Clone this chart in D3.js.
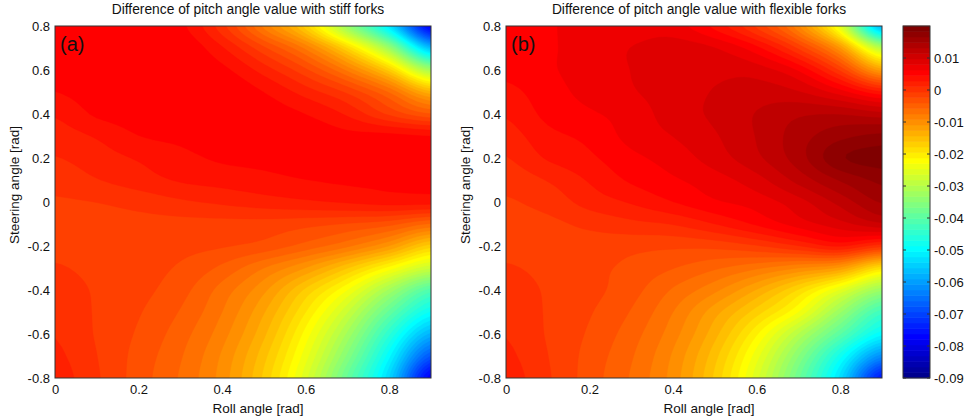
<!DOCTYPE html>
<html lang="en">
<head>
	<meta charset="UTF-8">
	<title>Difference of pitch angle value</title>
	<script type="text/javascript" src="https://cdn.jsdelivr.net/npm/d3@7"></script>
	<style>
		body { margin: 0; background: #fff; }
		text { font-family: "Liberation Sans", Arial, sans-serif; fill: #111; }
	</style>
</head>
<body>
	<script type="text/javascript">
		// grid: columns = roll angle, rows = steering angle (top to bottom)
		var rollAngles = [0, 0.1, 0.2, 0.3, 0.4, 0.5, 0.6, 0.7, 0.8, 0.9];
		var steerAngles = [0.8, 0.7, 0.6, 0.5, 0.4, 0.3, 0.2, 0.1, 0, -0.1, -0.2, -0.3, -0.4, -0.5, -0.6, -0.7, -0.8];

		// (a) stiff forks
		var stiffDiff = [
			[0.005, 0.006, 0.006, 0.005, 0.000, -0.008, -0.017, -0.033, -0.052, -0.078],
			[0.005, 0.006, 0.006, 0.006, 0.003, -0.002, -0.008, -0.018, -0.033, -0.057],
			[0.005, 0.006, 0.006, 0.006, 0.005, 0.002, -0.002, -0.008, -0.017, -0.032],
			[0.0045, 0.0055, 0.006, 0.006, 0.006, 0.0045, 0.002, -0.001, -0.006, -0.014],
			[0.003, 0.0048, 0.0055, 0.006, 0.006, 0.0055, 0.0045, 0.0025, -0.001, -0.004],
			[0.002, 0.003, 0.0045, 0.005, 0.0055, 0.0055, 0.0055, 0.005, 0.005, 0.0045],
			[0.001, 0.002, 0.003, 0.004, 0.0048, 0.005, 0.0052, 0.0052, 0.0052, 0.005],
			[0.000, 0.001, 0.002, 0.003, 0.0035, 0.004, 0.0045, 0.0048, 0.0048, 0.0046],
			[-0.0008, -0.0006, 0.000, 0.0008, 0.0014, 0.002, 0.0025, 0.003, 0.0035, 0.0035],
			[-0.001, -0.0012, -0.0012, -0.0012, -0.0012, -0.0013, -0.0018, -0.0025, -0.0035, -0.006],
			[-0.001, -0.0012, -0.0014, -0.0018, -0.0022, -0.003, -0.0048, -0.0072, -0.011, -0.017],
			[-0.0005, -0.001, -0.0016, -0.0026, -0.0045, -0.0075, -0.011, -0.016, -0.022, -0.028],
			[0.000, -0.0008, -0.0018, -0.0034, -0.0065, -0.0105, -0.0165, -0.023, -0.032, -0.041],
			[0.0005, -0.0008, -0.0022, -0.0042, -0.0075, -0.0125, -0.0195, -0.028, -0.039, -0.049],
			[0.001, -0.0008, -0.0026, -0.005, -0.0085, -0.014, -0.022, -0.032, -0.045, -0.058],
			[0.0015, -0.0006, -0.003, -0.0056, -0.0095, -0.0155, -0.024, -0.0355, -0.050, -0.068],
			[0.002, -0.0004, -0.0032, -0.006, -0.010, -0.0165, -0.0258, -0.0388, -0.054, -0.078]
		];

		// (b) flexible forks
		var flexDiff = [
			[0.005, 0.006, 0.007, 0.007, 0.007, 0.004, -0.001, -0.009, -0.025, -0.058],
			[0.005, 0.006, 0.007, 0.008, 0.0088, 0.008, 0.005, -0.001, -0.011, -0.030],
			[0.005, 0.006, 0.007, 0.008, 0.0088, 0.0092, 0.0088, 0.006, -0.001, -0.012],
			[0.004, 0.0055, 0.0068, 0.0078, 0.0088, 0.0098, 0.0105, 0.0098, 0.007, 0.003],
			[0.003, 0.005, 0.006, 0.007, 0.0088, 0.010, 0.0115, 0.0128, 0.013, 0.012],
			[0.002, 0.004, 0.005, 0.0068, 0.008, 0.0095, 0.0115, 0.014, 0.016, 0.017],
			[0.001, 0.003, 0.0042, 0.0058, 0.007, 0.0088, 0.011, 0.014, 0.018, 0.019],
			[0.000, 0.0012, 0.003, 0.0048, 0.006, 0.0072, 0.009, 0.012, 0.015, 0.017],
			[-0.0008, 0.000, 0.0018, 0.003, 0.0045, 0.006, 0.007, 0.009, 0.012, 0.015],
			[-0.001, -0.001, -0.0002, 0.0006, 0.0012, 0.0028, 0.0048, 0.007, 0.009, 0.011],
			[-0.001, -0.0012, -0.0014, -0.0018, -0.002, -0.0018, -0.0008, 0.001, 0.003, 0.000],
			[-0.0005, -0.001, -0.0018, -0.0028, -0.004, -0.0055, -0.0072, -0.0092, -0.0115, -0.019],
			[0.000, -0.0008, -0.0018, -0.0034, -0.006, -0.0088, -0.0128, -0.018, -0.025, -0.033],
			[0.0005, -0.0008, -0.0022, -0.0042, -0.0075, -0.012, -0.017, -0.023, -0.033, -0.043],
			[0.001, -0.0008, -0.0026, -0.005, -0.0085, -0.0138, -0.021, -0.030, -0.040, -0.050],
			[0.0015, -0.0006, -0.003, -0.0056, -0.0095, -0.0155, -0.024, -0.035, -0.048, -0.062],
			[0.002, -0.0004, -0.0032, -0.006, -0.010, -0.0165, -0.0258, -0.038, -0.053, -0.075]
		];

		var xTicks = [0, 0.2, 0.4, 0.6, 0.8];
		var yTicks = [-0.8, -0.6, -0.4, -0.2, 0, 0.2, 0.4, 0.6, 0.8];
		var cbTicks = [-0.09, -0.08, -0.07, -0.06, -0.05, -0.04, -0.03, -0.02, -0.01, 0, 0.01];
		var cbMin = -0.09, cbMax = 0.02, nColors = 64;

		var titles = ["Difference of pitch angle value with stiff forks", "Difference of pitch angle value with flexible forks"];
		var tags = ["(a)", "(b)"];
		var xLabel = "Roll angle [rad]";
		var yLabel = "Steering angle [rad]";

		var width = 973, height = 418;
		var plotTop = 26, plotBottom = 378, plotW = 376;
		var svg = d3.select("body").append("svg")
			.attr("width", width)
			.attr("height", height);

		// matlab jet(64)
		function jetU(j) {
			if (j < 1 || j > 47) return 0;
			if (j <= 16) return j / 16;
			if (j <= 31) return 1;
			return (48 - j) / 16;
		}
		function jet(k) {
			return d3.rgb(255 * jetU(k - 24), 255 * jetU(k - 8), 255 * jetU(k + 8)).formatHex();
		}
		var step = (cbMax - cbMin) / nColors;
		var levels = d3.range(nColors).map(function (i) { return cbMin + i * step; });
		var color = d3.scaleQuantize()
			.domain([cbMin, cbMax])
			.range(d3.range(1, nColors + 1).map(jet));

		// smooth the read grid for display only (catmull-rom)
		function cr(p0, p1, p2, p3, t) {
			return 0.5 * (2 * p1 + (p2 - p0) * t + (2 * p0 - 5 * p1 + 4 * p2 - p3) * t * t + (3 * p1 - p0 - 3 * p2 + p3) * t * t * t);
		}
		function resample(grid, k) {
			var rows = grid.length, cols = grid[0].length;
			var w = (cols - 1) * k + 1, h = (rows - 1) * k + 1;
			function at(r, c) {
				r = Math.max(0, Math.min(rows - 1, r));
				c = Math.max(0, Math.min(cols - 1, c));
				return grid[r][c];
			}
			var values = new Array(w * h);
			for (var j = 0; j < h; j++) {
				var gy = j / k, iy = Math.min(Math.floor(gy), rows - 2), ty = gy - iy;
				for (var i = 0; i < w; i++) {
					var gx = i / k, ix = Math.min(Math.floor(gx), cols - 2), tx = gx - ix;
					var col = [];
					for (var r = -1; r <= 2; r++) {
						col.push(cr(at(iy + r, ix - 1), at(iy + r, ix), at(iy + r, ix + 1), at(iy + r, ix + 2), tx));
					}
					var v = cr(col[0], col[1], col[2], col[3], ty);
					values[j * w + i] = Math.max(cbMin, Math.min(cbMax - 1e-6, v));
				}
			}
			return { w: w, h: h, values: values };
		}

		function drawPanel(idx, x0, grid) {
			var x = d3.scaleLinear().domain([0, 0.9]).range([x0, x0 + plotW]);
			var y = d3.scaleLinear().domain([-0.8, 0.8]).range([plotBottom, plotTop]);
			var g = svg.append("g");

			var fine = resample(grid, 6);
			var gx = d3.scaleLinear().domain([0.5, fine.w - 0.5])
				.range([x(rollAngles[0]), x(rollAngles[rollAngles.length - 1])]);
			var gy = d3.scaleLinear().domain([0.5, fine.h - 0.5])
				.range([y(steerAngles[0]), y(steerAngles[steerAngles.length - 1])]);
			var path = d3.geoPath(d3.geoTransform({
				point: function (px, py) { this.stream.point(gx(px), gy(py)); }
			}));
			var bands = d3.contours().size([fine.w, fine.h]).thresholds(levels)(fine.values);

			svg.append("clipPath").attr("id", "clip" + idx)
				.append("rect")
				.attr("x", x(0)).attr("y", y(0.8))
				.attr("width", x(0.9) - x(0)).attr("height", y(-0.8) - y(0.8));

			g.append("g")
				.attr("clip-path", "url(#clip" + idx + ")")
				.selectAll("path")
				.data(bands)
				.enter()
				.append("path")
				.attr("d", path)
				.attr("fill", function (d) { return color(d.value + step / 2); })
				.attr("stroke", function (d) { return color(d.value + step / 2); })
				.attr("stroke-width", 0.4);

			// frame
			g.append("rect")
				.attr("x", x(0)).attr("y", y(0.8))
				.attr("width", x(0.9) - x(0)).attr("height", y(-0.8) - y(0.8))
				.attr("fill", "none")
				.attr("stroke", "#333")
				.attr("stroke-width", 1);

			var xAxis = g.append("g")
				.attr("transform", "translate(0," + plotBottom + ")")
				.call(d3.axisBottom(x).tickValues(xTicks).tickSize(0).tickPadding(7).tickFormat(String));
			var yAxis = g.append("g")
				.attr("transform", "translate(" + x0 + ",0)")
				.call(d3.axisLeft(y).tickValues(yTicks).tickSize(0).tickPadding(5).tickFormat(String));
			[xAxis, yAxis].forEach(function (a) {
				a.select(".domain").remove();
				a.selectAll("text").style("font-size", "13px").style("font-family", null).attr("fill", "#111");
			});

			var cx = (x(0) + x(0.9)) / 2;
			g.append("text")
				.attr("x", cx + 5).attr("y", 14)
				.attr("text-anchor", "middle")
				.style("font-size", "13.8px")
				.text(titles[idx]);
			g.append("text")
				.attr("x", cx + 15).attr("y", 413)
				.attr("text-anchor", "middle")
				.style("font-size", "13.5px")
				.text(xLabel);
			g.append("text")
				.attr("transform", "translate(" + (x0 - 41) + ",185) rotate(-90)")
				.attr("text-anchor", "middle")
				.attr("dy", "0.35em")
				.style("font-size", "13.5px")
				.text(yLabel);
			g.append("text")
				.attr("x", x0 + 5).attr("y", 51)
				.style("font-size", "20px")
				.attr("fill", "#222")
				.text(tags[idx]);
		}

		drawPanel(0, 55, stiffDiff);
		drawPanel(1, 506, flexDiff);

		// colorbar
		var cbX = 903, cbW = 27;
		var cy = d3.scaleLinear().domain([cbMin, cbMax]).range([plotBottom, plotTop]);
		var cb = svg.append("g");
		cb.selectAll("rect.band")
			.data(levels)
			.enter()
			.append("rect")
			.attr("class", "band")
			.attr("x", cbX)
			.attr("y", function (d) { return cy(d + step) - 0.3; })
			.attr("width", cbW)
			.attr("height", function (d) { return cy(d) - cy(d + step) + 0.6; })
			.attr("fill", function (d) { return color(d + step / 2); });
		cb.append("rect")
			.attr("x", cbX).attr("y", plotTop)
			.attr("width", cbW).attr("height", plotBottom - plotTop)
			.attr("fill", "none").attr("stroke", "#333");
		cb.selectAll("line.tl")
			.data(cbTicks)
			.enter()
			.append("line")
			.attr("x1", cbX).attr("x2", cbX + 3)
			.attr("y1", function (d) { return cy(d); }).attr("y2", function (d) { return cy(d); })
			.attr("stroke", "#333");
		cb.selectAll("line.tr")
			.data(cbTicks)
			.enter()
			.append("line")
			.attr("x1", cbX + cbW - 3).attr("x2", cbX + cbW)
			.attr("y1", function (d) { return cy(d); }).attr("y2", function (d) { return cy(d); })
			.attr("stroke", "#333");
		cb.selectAll("text")
			.data(cbTicks)
			.enter()
			.append("text")
			.attr("x", cbX + cbW + 4)
			.attr("y", function (d) { return cy(d); })
			.attr("dy", "0.35em")
			.style("font-size", "13px")
			.text(String);
	</script>
</body>
</html>
